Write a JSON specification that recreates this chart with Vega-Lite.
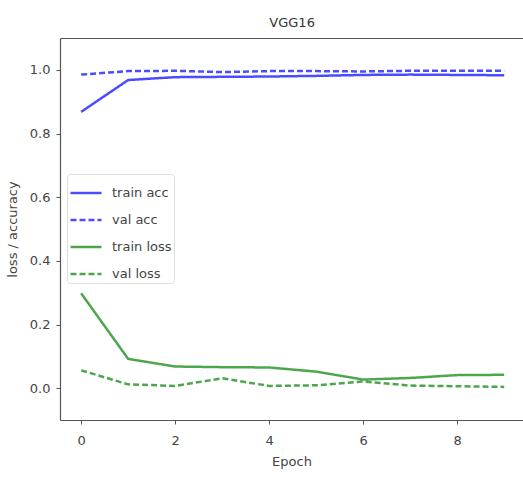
{
  "$schema": "https://vega.github.io/schema/vega-lite/v6.json",
  "width": 463,
  "height": 382,
  "autosize": "none",
  "padding": {"left": 60, "top": 38, "right": 0, "bottom": 58},
  "background": "white",
  "title": {"text": "VGG16", "fontSize": 13, "font": "DejaVu Sans", "fontWeight": "normal", "color": "#333", "offset": 8, "anchor": "start", "dx": 263},
  "config": {
    "view": {"stroke": null},
    "font": "DejaVu Sans",
    "axis": {"labelFont": "DejaVu Sans", "titleFont": "DejaVu Sans", "labelFontSize": 13, "titleFontSize": 13, "labelColor": "#444", "titleColor": "#444", "titleFontWeight": "normal", "domain": true, "domainColor": "#555", "domainWidth": 1.2, "grid": false, "tickColor": "#555", "tickSize": 4}
  },
  "data": {
    "values": [
      {"epoch": 0, "value": 0.868, "series": "train acc"},
      {"epoch": 1, "value": 0.968, "series": "train acc"},
      {"epoch": 2, "value": 0.977, "series": "train acc"},
      {"epoch": 3, "value": 0.978, "series": "train acc"},
      {"epoch": 4, "value": 0.979, "series": "train acc"},
      {"epoch": 5, "value": 0.981, "series": "train acc"},
      {"epoch": 6, "value": 0.984, "series": "train acc"},
      {"epoch": 7, "value": 0.985, "series": "train acc"},
      {"epoch": 8, "value": 0.984, "series": "train acc"},
      {"epoch": 9, "value": 0.983, "series": "train acc"},
      {"epoch": 0, "value": 0.985, "series": "val acc"},
      {"epoch": 1, "value": 0.996, "series": "val acc"},
      {"epoch": 2, "value": 0.997, "series": "val acc"},
      {"epoch": 3, "value": 0.993, "series": "val acc"},
      {"epoch": 4, "value": 0.996, "series": "val acc"},
      {"epoch": 5, "value": 0.996, "series": "val acc"},
      {"epoch": 6, "value": 0.995, "series": "val acc"},
      {"epoch": 7, "value": 0.997, "series": "val acc"},
      {"epoch": 8, "value": 0.997, "series": "val acc"},
      {"epoch": 9, "value": 0.997, "series": "val acc"},
      {"epoch": 0, "value": 0.298, "series": "train loss"},
      {"epoch": 1, "value": 0.092, "series": "train loss"},
      {"epoch": 2, "value": 0.068, "series": "train loss"},
      {"epoch": 3, "value": 0.066, "series": "train loss"},
      {"epoch": 4, "value": 0.065, "series": "train loss"},
      {"epoch": 5, "value": 0.052, "series": "train loss"},
      {"epoch": 6, "value": 0.027, "series": "train loss"},
      {"epoch": 7, "value": 0.032, "series": "train loss"},
      {"epoch": 8, "value": 0.041, "series": "train loss"},
      {"epoch": 9, "value": 0.042, "series": "train loss"},
      {"epoch": 0, "value": 0.056, "series": "val loss"},
      {"epoch": 1, "value": 0.012, "series": "val loss"},
      {"epoch": 2, "value": 0.007, "series": "val loss"},
      {"epoch": 3, "value": 0.031, "series": "val loss"},
      {"epoch": 4, "value": 0.007, "series": "val loss"},
      {"epoch": 5, "value": 0.009, "series": "val loss"},
      {"epoch": 6, "value": 0.021, "series": "val loss"},
      {"epoch": 7, "value": 0.008, "series": "val loss"},
      {"epoch": 8, "value": 0.006, "series": "val loss"},
      {"epoch": 9, "value": 0.004, "series": "val loss"}
    ]
  },
  "layer": [
    {
      "mark": {"type": "line", "strokeWidth": 2.5, "opacity": 0.7, "clip": true},
      "encoding": {
        "x": {"field": "epoch", "type": "quantitative", "title": "Epoch", "scale": {"domain": [-0.45, 9.4], "nice": false, "zero": false}, "axis": {"values": [0, 2, 4, 6, 8], "format": "d", "labelPadding": 10, "titlePadding": 8}},
        "y": {"field": "value", "type": "quantitative", "title": "loss / accuracy", "scale": {"domain": [-0.1, 1.1], "nice": false, "zero": false}, "axis": {"values": [0, 0.2, 0.4, 0.6, 0.8, 1.0], "format": ".1f", "labelPadding": 6, "titlePadding": 10}},
        "color": {"field": "series", "type": "nominal", "title": null, "scale": {"domain": ["train acc", "val acc", "train loss", "val loss"], "range": ["#0000ff", "#0000ff", "#008000", "#008000"]},
          "legend": {"orient": "none", "legendX": 7, "legendY": 136, "symbolType": "stroke", "symbolSize": 961, "symbolStrokeWidth": 2.5, "symbolOpacity": 0.7, "labelFontSize": 13, "labelColor": "#444", "labelFont": "DejaVu Sans", "strokeColor": "#ddd", "fillColor": "white", "padding": 2, "cornerRadius": 3, "rowPadding": 3, "labelOffset": 9}},
        "strokeDash": {"field": "series", "type": "nominal", "title": null, "scale": {"domain": ["train acc", "val acc", "train loss", "val loss"], "range": [[1, 0], [6, 3], [1, 0], [6, 3]]}},
        "detail": {"field": "series"}
      }
    },
    {
      "mark": {"type": "line", "opacity": 0},
      "encoding": {
        "x": {"field": "epoch", "type": "quantitative", "scale": {"domain": [-0.45, 9.4], "nice": false, "zero": false}, "axis": {"orient": "top", "title": null, "labels": false, "ticks": false}},
        "y": {"field": "value", "type": "quantitative"},
        "detail": {"field": "series"}
      }
    }
  ],
  "resolve": {"axis": {"x": "independent"}}
}
